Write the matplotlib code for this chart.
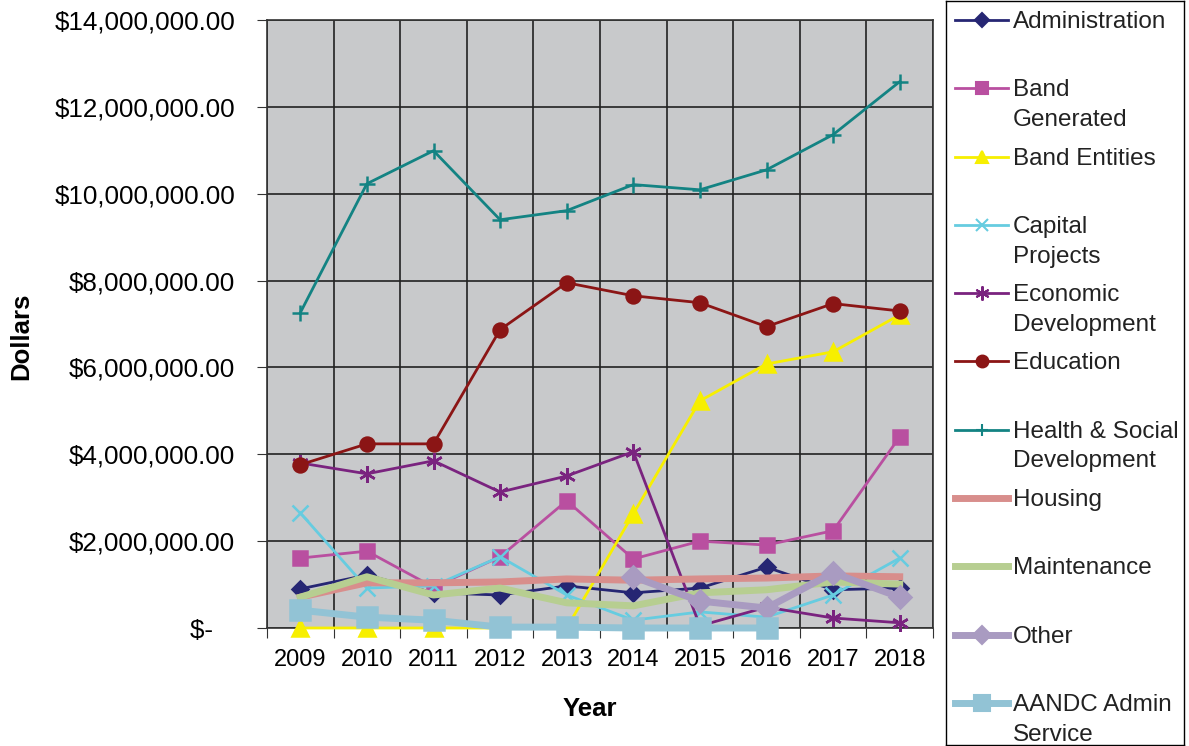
import numpy as np
import matplotlib.pyplot as plt
from matplotlib.ticker import FuncFormatter, MultipleLocator

plt.rcParams['font.family'] = ['Liberation Sans', 'DejaVu Sans']

# values (millions of dollars)
years = [2009, 2010, 2011, 2012, 2013, 2014, 2015, 2016, 2017, 2018]
administration = [0.90, 1.22, 0.81, 0.76, 0.97, 0.81, 0.92, 1.40, 0.88, 0.92]
band_generated = [1.61, 1.77, 0.94, 1.64, 2.93, 1.59, 2.00, 1.91, 2.24, 4.40]
band_entities = [0.0, 0.0, 0.0, 0.0, 0.0, 2.63, 5.23, 6.08, 6.36, 7.21]
capital_projects = [2.65, 0.92, 0.97, 1.64, 0.76, 0.18, 0.37, 0.25, 0.76, 1.61]
economic_dev = [3.80, 3.55, 3.85, 3.13, 3.50, 4.06, 0.05, 0.48, 0.23, 0.12]
education = [3.76, 4.24, 4.24, 6.87, 7.95, 7.65, 7.49, 6.94, 7.47, 7.30]
health_social = [7.26, 10.23, 10.99, 9.40, 9.61, 10.21, 10.09, 10.55, 11.36, 12.58]
housing = [0.71, 1.04, 1.04, 1.06, 1.13, 1.10, 1.13, 1.15, 1.20, 1.18]
maintenance = [0.71, 1.18, 0.76, 0.92, 0.58, 0.51, 0.81, 0.88, 1.06, 1.01]
other = [None, None, None, None, None, 1.18, 0.62, 0.46, 1.27, 0.71]
aandc_admin = [0.41, 0.25, 0.18, 0.02, 0.02, 0.0, 0.0, 0.0, None, None]

labels = ["Administration", "Band\nGenerated", "Band Entities", "Capital\nProjects",
          "Economic\nDevelopment", "Education", "Health & Social\nDevelopment",
          "Housing", "Maintenance", "Other", "AANDC Admin\nService"]
series = [administration, band_generated, band_entities, capital_projects, economic_dev,
          education, health_social, housing, maintenance, other, aandc_admin]

# colour, marker, marker size, line width
styles = [
    ("#262673", "D", 8, 2),
    ("#B94FA0", "s", 10, 2),
    ("#F7EF00", "^", 11, 2),
    ("#66CCE0", "x", 11, 2),
    ("#7A237F", (6, 2, 0), 12, 2),
    ("#8B1515", "o", 10, 2),
    ("#138383", "+", 11, 2),
    ("#D88E8C", "", 0, 5),
    ("#B7CE91", "", 0, 5),
    ("#A99BC1", "D", 11, 5),
    ("#92C3D5", "s", 14, 5),
]

fig = plt.figure(figsize=(11.89, 7.46), dpi=100)
ax = fig.add_axes([267 / 1189, 118 / 746, 666 / 1189, 608 / 746])
ax.set_facecolor("#C8C9CB")

for i, (vals, (color, marker, ms, lw)) in enumerate(zip(series, styles)):
    y = np.array([np.nan if v is None else v * 1e6 for v in vals], dtype=float)
    ax.plot(years, y, color=color, marker=marker, markersize=ms, linewidth=lw,
            markeredgecolor=color, markerfacecolor=color, markeredgewidth=1.8,
            zorder=3 + i, clip_on=False)

ax.set_xlim(years[0] - 0.5, years[-1] + 0.5)
ax.set_ylim(0, 14e6)
ax.yaxis.set_major_locator(MultipleLocator(2e6))
ax.yaxis.set_major_formatter(FuncFormatter(lambda v, p: "$-   " if v == 0 else f"${v:,.2f}"))
ax.set_xticks(np.arange(years[0] - 0.5, years[-1] + 0.6, 1))
ax.set_xticklabels([])
ax.set_xticks(years, minor=True)
ax.set_xticklabels([str(y) for y in years], minor=True)
ax.tick_params(axis="x", which="major", length=7, color="#333333")
ax.tick_params(axis="x", which="minor", length=0, labelsize=17, pad=15)
ax.tick_params(axis="y", length=7, labelsize=18.7, pad=16, color="#333333")
ax.grid(True, which="major", color="#222222", linewidth=1.2)
ax.set_axisbelow(True)
for s in ax.spines.values():
    s.set_color("#333333")
    s.set_linewidth(1.2)

ax.set_ylabel("Dollars", fontsize=18.5, fontweight="bold")
ax.yaxis.set_label_coords(-0.351, 0.479)
ax.set_xlabel("Year", fontsize=18.5, fontweight="bold")
ax.xaxis.set_label_coords(0.485, -0.1135)

# legend panel drawn by hand to keep Excel-like spacing
leg = fig.add_axes([946 / 1189, 1 / 746, 238 / 1189, 744 / 746])
leg.set_xlim(946, 1184)
leg.set_ylim(745, 1)
leg.set_xticks([])
leg.set_yticks([])
for s in leg.spines.values():
    s.set_color("black")
    s.set_linewidth(1)
for i, (lab, (color, marker, ms, lw)) in enumerate(zip(labels, styles)):
    yy = 20 + i * 68.3
    leg.plot([955, 1008], [yy, yy], color=color, linewidth=lw)
    if marker:
        leg.plot([981.5], [yy], color=color, marker=marker, markersize=ms * 0.85,
                 markeredgecolor=color, markeredgewidth=1.5)
    leg.text(1013, yy - 9, lab, fontsize=17.5, va="top", ha="left",
             color="#222222", linespacing=1.45)

fig.savefig("out.png", dpi=100)
